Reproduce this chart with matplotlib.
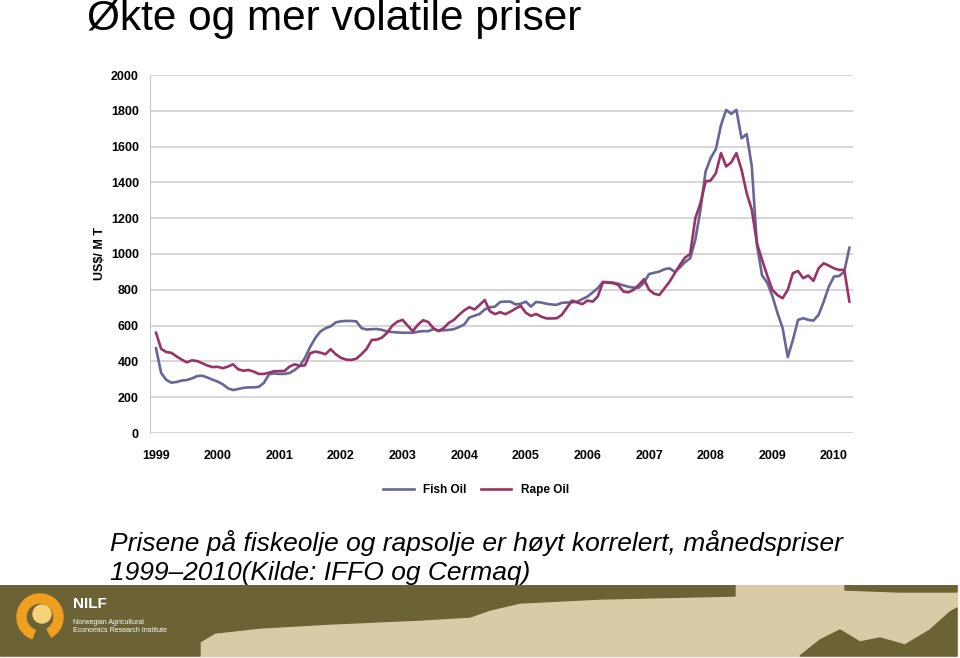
import numpy as np
import matplotlib
matplotlib.use("Agg")
from matplotlib import pyplot as plt
from matplotlib.patches import Polygon, Wedge, Circle, Rectangle

plt.rcParams['font.family'] = ['Liberation Sans', 'DejaVu Sans']

# monthly prices, Jan 1999 - Apr 2010 (US$/MT)
fishOil = [474, 335, 297, 281, 285, 293, 296, 305, 318, 320, 310, 298,
           287, 272, 250, 240, 246, 252, 255, 255, 258, 280, 328, 333,
           330, 330, 335, 352, 375, 420, 480, 530, 567, 585, 596, 618,
           624, 626, 626, 624, 586, 578, 580, 581, 576, 567, 564, 562,
           560, 560, 560, 566, 569, 569, 580, 572, 574, 576, 580, 592,
           606, 645, 655, 665, 690, 702, 706, 732, 734, 734, 718, 722,
           734, 706, 732, 729, 722, 718, 716, 727, 729, 730, 734, 748,
           762, 785, 809, 844, 843, 840, 834, 825, 817, 812, 812, 840,
           888, 895, 902, 915, 920, 900, 925, 955, 976, 1079, 1247, 1461,
           1536, 1586, 1720, 1805, 1783, 1805, 1646, 1670, 1488, 1050, 880, 840,
           765, 670, 586, 424, 520, 632, 641, 632, 628, 660, 734, 818,
           874, 877, 902, 1035]

rapeOil = [560, 470, 452, 448, 428, 410, 395, 406, 402, 390, 377, 368,
           370, 362, 371, 384, 356, 348, 352, 343, 330, 330, 337, 345,
           346, 346, 371, 384, 375, 378, 445, 455, 449, 440, 468, 440,
           420, 410, 408, 415, 440, 470, 520, 522, 533, 560, 600, 622,
           632, 600, 569, 605, 630, 620, 586, 569, 586, 615, 632, 660,
           685, 703, 690, 715, 743, 680, 664, 675, 664, 678, 695, 710,
           672, 654, 665, 650, 640, 640, 641, 660, 700, 740, 729, 720,
           740, 734, 762, 842, 840, 837, 827, 790, 786, 800, 827, 859,
           800, 778, 771, 809, 846, 893, 939, 980, 1000, 1200, 1284, 1405,
           1411, 1452, 1564, 1489, 1512, 1564, 1471, 1340, 1247, 1060, 967, 880,
           800, 770, 753, 800, 893, 905, 865, 880, 850, 920, 948, 935,
           920, 911, 911, 734]

yearLabels = [str(y) for y in range(1999, 2011)]
yTicks = list(range(0, 2001, 200))

fig = plt.figure(figsize=(9.6, 6.58), dpi=100)
ax = fig.add_axes([150/960, 1-433/658, 703/960, 358/658])

months = np.arange(len(fishOil))
ax.plot(months, fishOil, color='#666699', lw=1.9, label='Fish Oil', zorder=3)
ax.plot(months, rapeOil, color='#993366', lw=1.9, label='Rape Oil', zorder=3)

ax.set_xlim(-1.17, 135.7)
ax.set_ylim(0, 2000)
ax.set_yticks(yTicks)
ax.set_yticklabels([str(v) for v in yTicks], fontsize=9, fontweight='bold')
ax.set_xticks(np.arange(0, len(fishOil), 12))
ax.set_xticklabels(yearLabels, fontsize=9, fontweight='bold')
ax.tick_params(length=0, pad=8)
ax.tick_params(axis='x', pad=12)
ax.grid(axis='y', color='#D0D0D0', lw=1.2)
ax.set_axisbelow(True)
for s in ['top', 'right', 'bottom']:
    ax.spines[s].set_visible(False)
ax.spines['left'].set_color('#C8C8C8')
ax.set_ylabel('US$/ M T', fontsize=9, fontweight='bold', labelpad=0)
ax.yaxis.set_label_coords(-44/703, 0.5)

fig.legend(loc='center', bbox_to_anchor=(476/960, 1-490/658), ncol=2,
           frameon=False, handlelength=2.6, columnspacing=1.2,
           prop={'size': 8.5, 'weight': 'bold'})

fig.text(87/960, 1-19/658, 'Økte og mer volatile priser', fontsize=30.5,
         va='center', ha='left')
fig.text(110/960, 1-543/658,
         'Prisene på fiskeolje og rapsolje er høyt korrelert, månedspriser',
         fontsize=19, style='italic', va='center', ha='left')
fig.text(110/960, 1-573/658, '1999\u20132010(Kilde: IFFO og Cermaq)',
         fontsize=19, style='italic', va='center', ha='left')

# NILF banner
bx = fig.add_axes([0, 0, 1, 73/658], zorder=5)
bx.set_xlim(0, 960)
bx.set_ylim(658, 585)
bx.axis('off')
bx.add_patch(Rectangle((0, 585), 957, 71, color='#D8CBA6'))
bx.add_patch(Polygon([(0, 585), (735, 585), (735, 596), (600, 599),
                      (520, 603), (490, 610), (470, 617), (420, 620),
                      (330, 624), (260, 628), (215, 633), (200, 642),
                      (200, 656), (0, 656)], color='#6B6236'))
bx.add_patch(Polygon([(845, 585), (957, 585), (957, 592), (900, 592),
                      (845, 590)], color='#6B6236'))
bx.add_patch(Polygon([(800, 656), (820, 640), (840, 630), (860, 642),
                      (880, 638), (905, 645), (930, 630), (950, 612),
                      (957, 608), (957, 656)], color='#6B6236'))
bx.add_patch(Wedge((40, 617), 23, 110, 420, width=9, color='#F0A020'))
bx.add_patch(Circle((42, 614), 9, color='#F7D27A'))
bx.text(73, 604, 'NILF', color='white', fontsize=11, fontweight='bold',
        va='center', ha='left')
bx.text(73, 626, 'Norwegian Agricultural\nEconomics Research Institute',
        color='white', fontsize=5, va='center', ha='left', linespacing=1.2)

fig.savefig('out.png', dpi=100)
